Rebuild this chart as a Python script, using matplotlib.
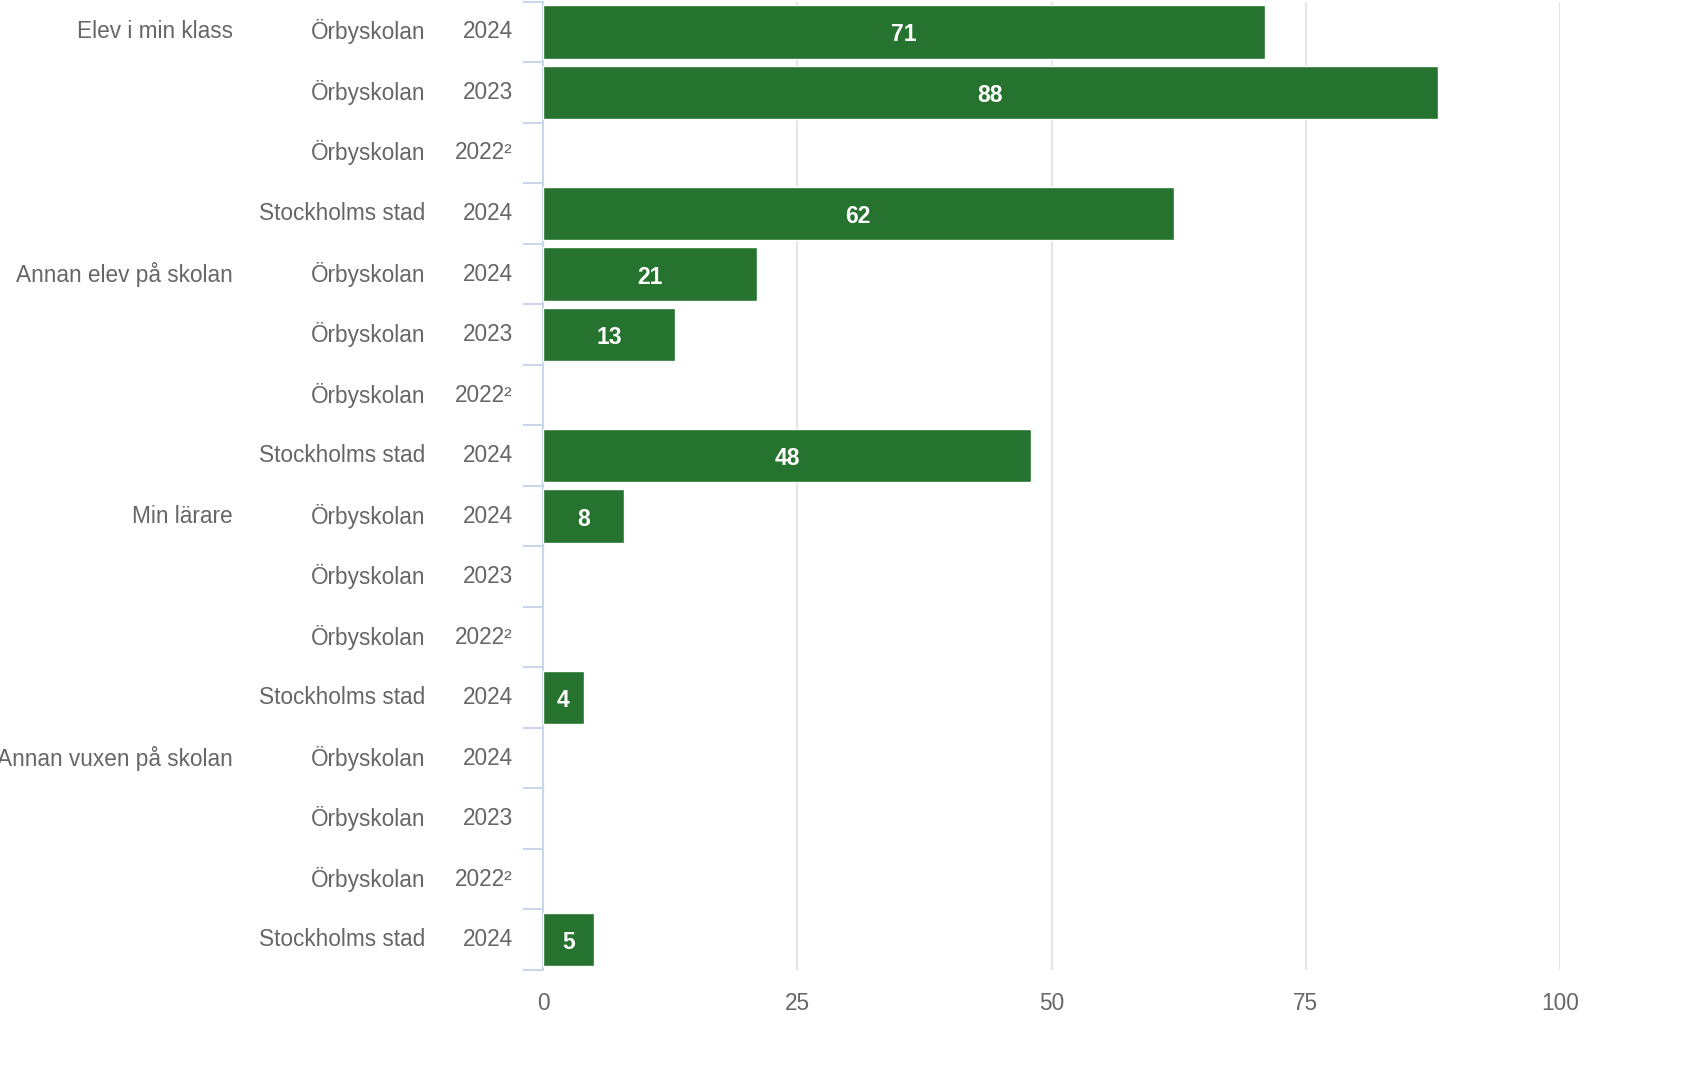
import matplotlib.pyplot as plt
import matplotlib.transforms as mtransforms
import numpy as np

# data
grupper = ["Elev i min klass", "Annan elev på skolan", "Min lärare", "Annan vuxen på skolan"]
enheter = ["Örbyskolan", "Örbyskolan", "Örbyskolan", "Stockholms stad"]
ar = ["2024", "2023", "2022²", "2024"]
varden = [
    [71, 88, None, 62],
    [21, 13, None, 48],
    [8, None, None, 4],
    [None, None, None, 5],
]

plt.rcParams['font.family'] = ['Liberation Sans', 'DejaVu Sans']

fig = plt.figure(figsize=(16.94, 10.92), dpi=100)
ax = fig.add_axes([543 / 1694, 1 - 970 / 1092, 1017 / 1694, (970 - 1.7) / 1092])

green = '#267330'
text_col = '#666666'
fs = 16.3
n_rows = len(grupper) * len(enheter)

rad = 0
for g, grupp in enumerate(grupper):
    for i in range(len(enheter)):
        v = varden[g][i]
        if v is not None:
            ax.barh(rad, v, height=0.88, color=green, edgecolor='white', linewidth=1, zorder=3)
            ax.text(v / 2, rad + 0.05, str(v), ha='center', va='center', color='white',
                    fontsize=16.5, fontweight='bold', zorder=4)
        rad += 1

ax.set_ylim(n_rows - 0.5, -0.5)
ax.set_xlim(0, 100)
ax.set_xticks([0, 25, 50, 75, 100])
ax.tick_params(axis='x', length=0, pad=16, labelsize=fs, labelcolor=text_col)
ax.grid(axis='x', color='#e6e6e6', linewidth=1.5, zorder=0)

# kategoristreck mellan raderna
ax.set_yticks([])
ax.set_yticks(np.arange(-0.5, n_rows, 1), minor=True)
ax.tick_params(axis='y', which='minor', length=14.5, width=1.5, color='#ccd6eb', labelleft=False)

for side in ['top', 'right', 'bottom']:
    ax.spines[side].set_visible(False)
ax.spines['left'].set_color('#ccd6eb')
ax.spines['left'].set_linewidth(1.5)

trans = mtransforms.blended_transform_factory(fig.transFigure, ax.transData)
rad = 0
for g, grupp in enumerate(grupper):
    ax.text(233 / 1694, rad, grupp, transform=trans, ha='right', va='center',
            fontsize=fs, color=text_col)
    for i in range(len(enheter)):
        ax.text(425 / 1694, rad, enheter[i], transform=trans, ha='right', va='center',
                fontsize=fs, color=text_col)
        ax.text(513 / 1694, rad, ar[i], transform=trans, ha='right', va='center',
                fontsize=fs, color=text_col)
        rad += 1

fig.savefig('out.png', dpi=100)
